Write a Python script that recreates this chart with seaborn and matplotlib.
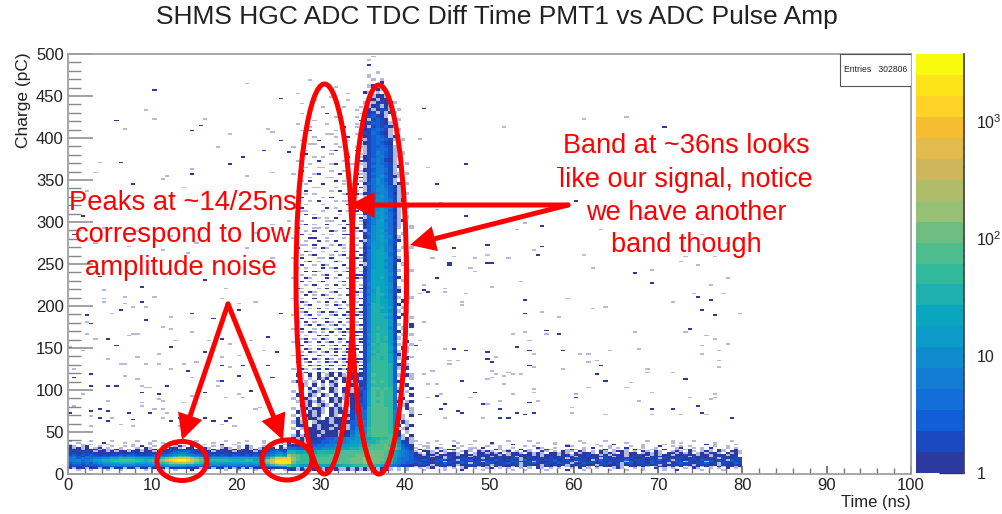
import numpy as np
import matplotlib
matplotlib.use("Agg")
import matplotlib.pyplot as plt
import seaborn as sns
from matplotlib.colors import BoundaryNorm, ListedColormap
from matplotlib.patches import Ellipse, FancyArrowPatch, Rectangle
from matplotlib.ticker import FixedLocator, NullFormatter

# Colour level per cell: 0-9 then a-j (20 levels), "-" is a faint single count, "." empty
level_chars = "0123456789abcdefghij"

# Low charge band, 0-26 ns in 0.5 ns columns, rows from 38 pC down to 4 pC (2 pC each)
left_band_rows = [
    "-....-....-.....-...-.....-...-......-....-...-.....",
    "..-.....0....-.....-..-.....0.....-.....-.....-...-.",
    "-..-.-...-.....-...-...-.0...-..-...0..-..-.....-..-",
    "0-.-0..-..-..-.-.0..-.-..-0-.0.-..-.-...-.0-..-.-.0.",
    "0-0-0.-0.-..-...-.0-..0-00-.00.-0-..-0-.-.0-.-0-0.0-",
    "010-000-0--0-.-.0-0-0-0010110100" "0-0-00-0-00-0-" "001010",
    "101010-00-0-00-00-00-01012223110" "00-0100-0100-0" "012321",
    "110111000000000100010011234432110" "1010100101010" "123453",
    "121212101111212211112123456654321" "1212112112121" "234664",
    "232132222233434433333445" "78aa9754" "32333323333232" "357998",
    "34233344557788887766789bdfggfdb9" "66777767777765" "68bfgg",
    "4453446788" "99aaaa99" "89ab" "cfhijjigdb" "88999988889978" "9cfhij",
    "3443446788" "9aaaaaa9" "89ab" "bdfhiihfca" "88899998899988" "adgjjj",
    "2332324566" "77888877" "6789" "9acdeedca9" "66777767777676" "8bfhii",
    "1221222344" "55555544" "4556" "6788887765" "44554455445454" "579bcc",
    "0101011122" "22232222" "2223" "3344443322" "12121212212121" "234455",
    "0-00-00-00" "-00-00-0" "0-0-" "0-0011000-" "-0-00-0-0-0-00" "-00010",
    "..-..-...-..-.....-...-..-...0..-....-..-...-...-..-",
]

# Low charge band, 41-80 ns in 0.5 ns columns, rows from 38 pC down to 4 pC (2 pC each)
right_band_rows = [
    "-....-...-....-.......-....-...........-.....-.........-.....-....-........-..",
    "...-......-.......0..........-...-......-.........-..........-.-.......-......",
    ".-....-......-....-....0.........-..-......-...0......-....-.........0.-....-.",
    "..--.....0.-.....-..-.....-.-.......0-......-.-....-..-...0..-.-.-.....-..-..",
    "-..-.0-...-..--.0...-..-.....0-..-......-.0...-.-.0...-..-....-0..-.-.0...-.-",
    ".0-..-.-00...-.-...0-.-..0.-.-.0-...-0-.-...-0.-..-.0-..--.0..-.-0..-.-.0-..0",
    "-.00-.0-.-.-0-.0-0-..-0.-.0-..0-.-.0--.0-.-.0-.-00-.-.0-.0-..-0-.0-.-0-.0-.00-",
    "0-.0-0.-00-.0.-00-0-0.-00-.0-0-.00-0-.0-00-.0-0-.0-00.-0-0-.00-0-0.-0-00-.0-0-",
    "00-00-0000-000-00100-0-00100-0-000-00-000100-0-000-00100-0-00-00100-00-000-00",
    "0101-00-10100-0100-01001-00100-0100101-00100010-10-0100-010010010-1000-101001",
    "1001010-10011010-01010011-0100101010-0110010-1010011001010-1001100101010-10011",
    "1121012101-11201110210111-2011011201101110-121101120111011201-110110211011-211",
    "2101120-11021011-12011021102-110121011-20111201101-2011021101121-1011-20110211",
    "1211011210121-11021011201-11210110211-10211011201-1201102111-01211011201-11021",
    "0110-01101-0011001-101001-1100-10101-001100-11001-01001101-0010110-01100-10010",
    "-00-0-00-0.-000-0-.0-00-0-0-.0-00-0.-0-00-.0-00-0-.00-0-.-00-0-0.-00-0-.0-00-0",
    ".-.-0..-.-.-0.-..-0.-.-..-.-.0-.-.-..-.0.-.-...-0-..-.-..0.-.-..-.0-..-.-.0.-",
    "..-....-...0....-......-..-....-....0...-.....-...-...-....-..0.....-....-....",
]

# Foot of both bands, 26-41 ns in 0.5 ns columns, rows from 40 pC down to 4 pC (4 pC each)
foot_rows = [
    "-0-0-0011223345566778899a95-0-",
    "0-00-01122334456677889aaa9610-",
    "10011223344556677899aaab9a7210",
    "3322334455566778899aaaabba8320",
    "8877777888899aaaaabbbbba975432",
    "dba9999999aaaaaabbbbbbba975432",
    "hca9999aaaaaaaabbbcbbbba964332",
    "ib99999aaaaaaaabbbcbbba9854322",
    "a87666677777788899a99875432110",
    "10-0--0--0-0--0-0-0-0-00-.-.-.",
]

# Second band, 26-35 ns in 0.5 ns columns, one row every 4 pC from 472 pC down to 120 pC
second_band_rows = [
    "..................", ".....-............", "..................", "...........-......", ".......-..........",
    "..-...........-...", "..........-.......", "......-.......-...", "...-.......-......",
    "........-....-...-", ".....-..........-.", "...-.....0.......-", "...........-....-.", "......-.....-....0",
    "..-......-......-.", ".....-.......0..-.", "...-.0.....-.....-", ".........--.....-.", "......-....-..0..-",
    "...-...0.....--..0", ".....--....-.....-", ".-......0...-...--", "....-.....-0....0.", "...00.....-...-..-",
    "......-.-.....0.--", "..-....0.....-...0", ".....-....-0...-.-", "....-..--.....0.-.", "...0......-..-...-",
    ".-....-0....0...0-", ".....-...--.....-0", "...-.0.....0.-...-", "....-...0....-.-0.", "......--...-.....0",
    "..-.0.....-.0...-.", "....-.-......-0.0-", "...0....-.0.....-.", ".....-.0...-.--..-", "....-...-.....0-.0",
    ".-.0.....0.-.....-", "...--...-...0.-.0.", "....0.-.....-...--", "......0-.-.0.....0", "...-.....--..0.-.-",
    "...-0.-..0..-.0..-", "..0...--.-...0.-0.", "....-.0...0-.-..-0", "...0.-..-.-..00...", ".-...00..-...-.0-.",
    "....-..0.-.0...-.0", "...--.0...-.0-..-.", "..0...-.0-...-.0.-", "....0-..-..0.-.-0.", "...-.-0...-.-0...0",
    ".-.0...--.0...-.0-", "....-0.-...0-..0.-", "...0..-.0-...0.-.0", "..-.-...0.-0..-.-.", "....0.0-...-.-0..-",
    "...-..-.-0..0...00", ".-..0-...0.-..-.0-", "...0.-.-0...-0..-.", "....-.0..-.0.-.0.-", "..0-...-.0..-.0-.0",
    "...-.0-...-0...-0-", "....0.-.0-..-.0.-.", ".-.-..0..-0.-..0-0", "...0-..-.0.-.0..-.", "....-0...-.0-.-0.0",
    "..-0.-.0.-..0-.-0-", "...-0..-0.0-..0.-0", ".-..-0.-..-0.0-.0-", "...0.-0.-0..-.0-.0", "..-.0.-..0-.0.-0-.",
    "....-0.0-.-0.-.0-0", ".-.0..-.0-.-0.0-.-", "...-.0-.-.0.-0-.00", "..0.-..0-0.-.0.-0-", "...-0.-.0-..0-.0-0",
    ".-..0-.0.-0.-.0-.0", "...0.-.-0.-0.0-.0-", "..-.0-.0..-0-.0-0.", "...-.0-.-0.0.-0-.0", ".-.0-..0-.-0.0-0-.",
    "...-0.0-.0-.-0-.00", "..0.-0.-.0-0.-0-0-", "...-.0-0.-0.-0.0-0", ".-.0-.-0.0-.0-0-.0", "...-0-.0-.0-0.-0-0",
]

# Lower part of the second band, 26-35 ns in 0.5 ns columns, rows from 116 pC down to 44 pC (4 pC each)
second_band_foot_rows = [
    "..0-.0.0.-0.0-.010", "...-.-.0-0.0.0-01-", ".-0.-.-.0.0-.0.-01", "...0-.0.-.-0..-0.0", "...0.0.-0.0-.0.-02",
    ".-.-.-0-..0-.0.-01", "..0-.0-.0-.0.-0020", ".-.-0-.0..0-0-.011", "..-.-0-0-.0-0.-021", "...0-0.-0-.0-.-022",
    ".-.-0-00-.0-0-.023", "..0-.0-0-.0-00-123", ".-.-00-0..0-.00133", "..0.-00-.0-000-134", ".-0-0.-000-00-0234",
    "..00-.0-000-00-235", ".-.-000-00-000-246", "..0.-000-000-00356", ".-0-000-0000-01467",
]

# Signal band, 35-41 ns in 0.5 ns columns, rows from 476 pC down to 44 pC (4 pC each)
signal_rows = [
    "...-........", ".-..........", "..-.-.......", "....0.......", ".-0.........", "...0-.......", "0-.-.-......",
    "..-00-......", ".-0-00......", "-.-0100-....", ".-01-0-.....", ".0-011-.-...", "-01-1-0-....", "01210-......",
    "0-1210..-...", "012210-.....", "0-12120-....", "012321-.-...", "113210-.....", "012321-0....",
    "-123321-.-..", "0123210.....", "-122321-0...", "-123331-....", "-124321-.-..", "0123421--...", "0134310-....",
    "-124321-..-.", "-134421-0...", "0124431-....", "-134421--.-.", "-1245310-...", "-135421-....", "0235431-0.-.",
    "-1345320-...", "-1355421-...", "01345420-.-.", "-2356421-...", "-2355431-0..", "12456420-...", "-2456431-.-.",
    "02456520-...", "12466431-...", "-2456530-.-.", "12467431-0..",
    "02466530-...", "12566531-..-", "-2567430....", "13566531.-..", "02567540-...", "-35676310...", "13666531....",
    "02667540.-.-", "13677541-...", "03677631..-.", "13677640-.-.", "036775410...", "-3677641.-..", "13677540....",
    "03777641-..-", "13777651..-.", "037786410...", "13777641.-..", "14777650..-.", "03787751-...", "146876410.-.",
    "13788751..-.", "14787650-..-", "14787751.0..", "138877510...",
    "14888761.-..", "14887751-.-.", "14888860.0..", "148887510..-", "14888861..-.", "14888861-..0", "14898851.-..",
    "148888610...", "15898861.-.-", "14898961-...", "15898862..0.", "14989961-..-", "15899972.0-.", "15989961-.-.",
    "158999720...", "15998972-.0.", "15999972.-..", "169999820.-.", "16999982-.0.", "16999982.0..",
    "16a99982-.0-", "16999982.0.-", "16a9a9820-..", "16999983.-0.", "16aa9a93-..0", "27a9a9930.-.", "27a9a993.-.0",
    "27aaa993-0..", "27a9a9930.-0", "27aaa993.-0.", "28aaaa93-.0-", "38aaaa940..-", "38aaaa94.-.0", "38aaaa940-..",
    "48aaaa94.0-.", "48aaaa940.-0", "59aaaa94.-0.", "59aaaa950.-.", "69aaaaa50-.0",
]

# Single counts scattered over the plot (ns, pC)
dark_t = [45.3, 45.3, 43.7, 49.8, 50.3, 69.2, 67.2, 74.8, 76.2, 54.3, 54.3, 75.3, 76.7, 40.8, 56.8, 58.3, 73.8, 41.3,
          53.3, 54.8, 58.8, 45.8, 47.3, 49.8, 49.8, 50.3, 54.8, 63.3, 62.8, 73.2, 63.7, 46.8, 48.3, 43.8, 60.3, 44.8,
          49.3, 54.8, 44.3, 46.3, 46.8, 51.3, 53.3, 54.3, 55.3, 69.2, 71.7, 74.8, 75.3, 41.9, 78.7, 51.3, 52.3, 42.3,
          42.8, 55.8, 10.2, 5.7, 14.7, 15.7, 6.2, 7.7, 14.7, 25.3, 25.3, 23.3, 20.9, 19.3, 26.2, 1.8, 0.8, 2.2, 2.7,
          4.7, 5.7, 6.2, 8.7, 9.2, 12.2, 14.7, 18.3, 16.2, 14.1, 18.3, 20.8, 2.7, 0.6, 2.7, 4.7, 5.7, 8.7, 10.7, 11.7,
          16.2, 20.3, 18.3, 21.6, 24.3, 3.7, 2.7, 4.7, 7.2, 9.7, 3.7, 4.7, 7.7, 12.2, 13.2, 16.2, 17.2, 18.8, 19.3,
          0.2, 23.8, 24.7, 23.8, 25.1, 16.3, 8.7, 3.7, 17.2, 20.3, 42.3, 47.3, 43.8, 70.7, 58.3, 60.3, 47.3, 56.3,
          45.8, 56.3, 49.8, 35.7]
dark_q = [251, 248, 232, 251, 250, 227, 238, 210, 207, 207, 191, 195, 188, 175, 171, 167, 172, 152,
          151, 147, 147, 148, 147, 144, 137, 132, 129, 128, 119, 113, 110, 110, 97, 93, 91, 82,
          83, 85, 77, 75, 73, 76, 72, 70, 72, 76, 76, 81, 72, 70, 66, 66, 66, 219,
          216, 260, 456, 421, 408, 415, 371, 344, 357, 447, 396, 385, 376, 369, 382, 306, 285, 188, 179,
          160, 152, 194, 204, 182, 150, 191, 161, 144, 123, 128, 129, 119, 114, 104, 104, 104, 97, 94, 104,
          97, 116, 110, 99, 114, 77, 75, 75, 72, 72, 66, 63, 64, 63, 66, 67, 62, 63, 66,
          72, 163, 144, 128, 191, 231, 223, 235, 185, 195, 435, 369, 344, 413, 364, 325, 306, 294,
          269, 270, 272, 486]

pale_t = [9.2, 10.2, 6.7, 16.1, 17.7, 19.3, 23.7, 24.3, 21.3, 3.7, 3.2, 11.2, 11.7, 13.7, 14.7, 21.3, 24.3, 2.2, 5.7,
          43.3, 45.8, 48.3, 49.8, 52.3, 61.0, 47.8, 48.3, 62.3, 69.2, 53.8, 50.3, 44.5, 44.8, 41.9, 47.3, 42.3, 46.8,
          46.8, 59.2, 62.3, 63.7, 56.3, 58.3, 42.3, 71.8, 74.3, 77.7, 76.3, 78.3, 79.7, 54.3, 52.8, 56.8, 67.2, 73.2,
          75.8, 76.7, 41.9, 54.6, 78.3, 75.3, 44.8, 67.8, 64.3, 55.3, 60.8, 61.8, 75.3, 77.3, 40.8, 50.8, 45.3, 46.3,
          62.8, 61.5, 77.3, 45.3, 55.3, 58.8, 68.8, 77.3, 43.3, 50.3, 68.8, 71.8, 52.3, 50.8, 52.8, 53.8, 42.3, 51.8,
          50.3, 49.8, 42.8, 43.8, 51.8, 66.8, 61.8, 66.3, 40.8, 55.3, 55.3, 69.2, 44.3, 60.3, 52.8, 42.8, 47.8, 73.8,
          76.7, 76.7, 76.2, 51.3, 55.8, 67.8, 49.8, 59.7, 44.8, 49.3, 59.7, 63.7, 69.2, 72.8, 75.8, 72.8, 74.8, 73.3,
          76.7, 4.2, 4.2, 4.2, 6.7, 6.7, 5.2, 7.7, 9.2, 10.2, 2.2, 2.2, 3.2, 7.2, 7.7, 8.2, 11.2, 12.2, 12.2, 12.7,
          14.7, 10.7, 8.2, 4.7, 6.2, 6.7, 9.2, 10.7, 13.7, 12.2, 8.2, 6.7, 0.7, 1.7, 0.2, 15.2, 14.9, 17.8, 18.3,
          19.3, 19.3, 16.8, 18.3, 18.8, 20.4, 22.4, 21.8, 23.2, 20.3, 9.2, 9.7, 11.6, 8.7, 1.7, 4.7, 8.7, 8.7, 10.7,
          11.2, 13.7, 14.7, 18.8, 20.3, 20.8, 22.8, 22.4, 17.8, 0.7, 2.7, 5.2, 11.2, 10.2, 11.2, 11.6, 6.2, 2.7, 7.7,
          13.2, 19.8, 18.3, 51.8, 42.8, 44.3, 43.8, 54.3, 53.3, 49.8, 61.0, 71.8, 55.3, 41.8, 61.3, 66.0, 72.0, 68.0,
          75.0, 78.0, 63.0, 4.0, 8.0, 12.0, 15.0, 19.0, 22.0, 24.0, 26.0, 3.0, 7.0, 11.0, 14.0, 21.0, 24.0, 36.2, 35.7]
pale_q = [433, 423, 411, 422, 389, 405, 410, 407, 464, 370, 358, 351, 354, 340, 362, 354, 358, 336, 314,
          256, 258, 256, 261, 257, 261, 244, 240, 244, 243, 229, 222, 221, 217, 214, 214, 225, 205,
          200, 209, 197, 198, 193, 186, 180, 205, 214, 214, 225, 233, 190, 169, 166, 166, 169, 169,
          165, 161, 159, 159, 154, 153, 149, 149, 146, 143, 143, 143, 143, 146, 139, 139, 135, 134,
          135, 133, 135, 131, 127, 125, 125, 127, 123, 123, 121, 121, 121, 118, 118, 118, 118, 116,
          114, 112, 107, 107, 107, 108, 102, 102, 100, 100, 96, 96, 95, 95, 94, 90, 91, 90,
          95, 90, 88, 87, 86, 87, 83, 78, 67, 67, 72, 71, 71, 71, 71, 252, 248, 258,
          259, 218, 209, 204, 211, 202, 191, 198, 198, 211, 181, 166, 161, 165, 167, 167, 174, 173, 186, 159,
          169, 143, 139, 136, 131, 131, 131, 131, 131, 124, 112, 117, 125, 146, 150, 132, 114, 111, 139,
          126, 154, 158, 208, 220, 202, 205, 158, 147, 141, 103, 103, 104, 104, 94, 87, 84, 80, 88,
          87, 84, 92, 91, 94, 90, 79, 77, 104, 80, 68, 66, 66, 76, 76, 72, 59, 56, 56,
          56, 56, 59, 413, 365, 323, 314, 299, 291, 261, 261, 393, 267, 398, 422, 425, 350, 305,
          285, 275, 290, 292, 288, 282, 275, 279, 286, 296, 300, 275, 270, 266, 262, 268, 256, 497, 492]

time_ticks = [0, 10, 20, 30, 40, 50, 60, 70, 80, 90, 100]
charge_ticks = [0, 50, 100, 150, 200, 250, 300, 350, 400, 450, 500]

bird_colors = ["#2a3a9f", "#1a48be", "#105fd7", "#146ed7", "#127dd2", "#0e8ccd", "#0c9bc8", "#0aa5be",
               "#1eafaf", "#32b99b", "#4ebe91", "#6ebe82", "#96c073", "#afbc69", "#cdb75a", "#e1bb4b",
               "#f5be32", "#ffd228", "#fce419", "#fafa0f"]

sns.set_theme(style="white")
plt.rcParams["font.family"] = ["Liberation Sans", "DejaVu Sans"]
plt.rcParams["mathtext.fontset"] = "custom"
plt.rcParams["mathtext.rm"] = "Liberation Sans"
plt.rcParams["mathtext.default"] = "regular"

bird = ListedColormap(bird_colors)
level_edges = np.geomspace(1, 3700, 21)
norm = BoundaryNorm(level_edges, 20)
level_counts = np.sqrt(level_edges[:-1] * level_edges[1:])

fig = plt.figure(figsize=(10.02, 5.14), dpi=100)
ax = fig.add_axes([68 / 1002, 40 / 514, 843 / 1002, 420 / 514])


def draw_cells(t, q, counts, t_edges, q_edges, alpha=1.0):
    sns.histplot(x=t, y=q, weights=counts, bins=[t_edges, q_edges], cmap=bird, norm=norm,
                 vmin=None, vmax=None, alpha=alpha, ax=ax)


def draw_block(rows, t0, dt, q_top, pitch, cell_h=None):
    # rows run top to bottom, q_top is the lower edge of the first row
    cell_h = cell_h or pitch
    n_cols = max(len(r) for r in rows)
    t_edges = t0 + dt * np.arange(n_cols + 1)
    q_edges = np.arange(q_top - pitch * (len(rows) - 1), q_top + pitch + cell_h / 2, cell_h)
    solid = ([], [], [])
    faint = ([], [], [])
    for r, row in enumerate(rows):
        q = q_top - pitch * r + cell_h / 2
        for c, ch in enumerate(row):
            t = t0 + dt * c + dt / 2
            if ch == "-":
                faint[0].append(t)
                faint[1].append(q)
                faint[2].append(1.2)
            elif ch != ".":
                solid[0].append(t)
                solid[1].append(q)
                solid[2].append(level_counts[level_chars.index(ch)])
    draw_cells(*faint, t_edges, q_edges, alpha=0.35)
    draw_cells(*solid, t_edges, q_edges)


draw_block(left_band_rows, 0, 0.5, 38, 2)
draw_block(right_band_rows, 41, 0.5, 38, 2)
draw_block(foot_rows, 26, 0.5, 40, 4)
draw_block(second_band_rows, 26, 0.5, 472 - 0, 4, cell_h=2)
draw_block(second_band_foot_rows, 26, 0.5, 116, 4)
draw_block(signal_rows, 35, 0.5, 476, 4)

speck_t_edges = 0.5 * np.arange(201)
speck_q_edges = 2.0 * np.arange(251)
draw_cells(pale_t, pale_q, [1.2] * len(pale_t), speck_t_edges, speck_q_edges, alpha=0.35)
draw_cells(dark_t, dark_q, [1.2] * len(dark_t), speck_t_edges, speck_q_edges)

ax.set_xlim(0, 100)
ax.set_ylim(0, 500)
ax.set_xlabel("")
ax.set_ylabel("")
ax.set_xticks(time_ticks)
ax.set_yticks(charge_ticks)
ax.xaxis.set_minor_locator(FixedLocator(np.arange(0, 101, 2)))
ax.yaxis.set_minor_locator(FixedLocator(np.arange(0, 501, 10)))
ax.tick_params(axis="x", which="major", direction="in", length=6, width=1.1, color="#555555",
               labelsize=12, labelcolor="#222222", pad=3)
ax.tick_params(axis="x", which="minor", direction="in", length=4, width=1.0, color="#777777")
ax.tick_params(axis="y", which="major", direction="in", length=18, width=1.1, color="#888888",
               labelsize=12, labelcolor="#222222", pad=3)
ax.tick_params(axis="y", which="minor", direction="in", length=9, width=1.0, color="#888888")
ax.xaxis.set_ticks_position("bottom")
ax.yaxis.set_ticks_position("left")
for spine in ax.spines.values():
    spine.set_color("#a0a0a0")
    spine.set_linewidth(1.3)
ax.patch.set_alpha(0)
fig.text(911 / 1002, 1 - 502 / 514, "Time (ns)", ha="right", va="center", fontsize=12, color="#222222")
fig.text(24 / 1002, 1 - 52 / 514, "Charge (pC)", rotation=90, ha="center", va="top", fontsize=12.5, color="#222222")
fig.text(497 / 1002, 1 - 17 / 514, "SHMS HGC ADC TDC Diff Time PMT1 vs ADC Pulse Amp",
         ha="center", va="center", fontsize=19, color="#222222")

# stats box
ax.add_patch(Rectangle((91.6, 462), 8.4, 38, facecolor="white", edgecolor="#555555", linewidth=0.8, zorder=5))
ax.text(92.0, 481, "Entries   302806", fontsize=6.2, va="center", ha="left", color="#222222", zorder=6)

# colour bar
cax = fig.add_axes([916 / 1002, 41 / 514, 48 / 1002, 419 / 514])
cax.pcolormesh([0, 1], level_edges, level_counts[:, None], cmap=bird, norm=norm)
cax.set_yscale("log")
cax.set_ylim(1, 3700)
cax.set_xticks([])
cax.set_yticks([1, 10, 100, 1000])
cax.set_yticklabels(["1", "10", "$10^{2}$", "$10^{3}$"])
cax.yaxis.set_minor_locator(FixedLocator([m * d for d in (1, 10, 100, 1000) for m in range(2, 10)]))
cax.yaxis.set_minor_formatter(NullFormatter())
cax.yaxis.tick_right()
cax.tick_params(axis="y", which="major", direction="in", length=18, width=1.0, color="#333333",
                labelsize=11.5, labelcolor="#222222", pad=9, right=True, left=False)
cax.tick_params(axis="y", which="minor", direction="in", length=9, width=1.0, color="#444444", right=True, left=False)
for name, spine in cax.spines.items():
    spine.set_visible(name == "right")
    spine.set_color("#444444")

# red notes drawn on top, in pixel coordinates of the picture
over = fig.add_axes([0, 0, 1, 1])
over.set_xlim(0, 1002)
over.set_ylim(514, 0)
over.axis("off")
red = "#ff0000"
for cx, cy, w, h in [(324.5, 279, 57, 390), (379, 279.5, 55, 389), (182, 461, 50, 39), (287, 460, 50, 40)]:
    over.add_patch(Ellipse((cx, cy), w, h, fill=False, edgecolor=red, linewidth=3.6))
for start, end in [((568, 205), (349, 205)), ((568, 205), (410, 245)), ((228, 304), (182, 440)), ((228, 304), (283, 440))]:
    over.add_patch(FancyArrowPatch(start, end, arrowstyle="-|>,head_length=0.7,head_width=0.35", mutation_scale=18,
                                   color=red, linewidth=3.6, shrinkA=0, shrinkB=0, joinstyle="miter"))
for x, y, s, size in [(183, 203, "Peaks at ~14/25ns", 19.7), (183, 235, "correspond to low", 19.7), (181, 268, "amplitude noise", 19.7),
                      (686, 146, "Band at ~36ns looks", 19.5), (686, 180, "like our signal, notice", 19.5),
                      (686, 213, "we have another", 19.5), (686, 245, "band though", 19.5)]:
    over.text(x, y, s, color=red, fontsize=size, ha="center", va="center")

fig.savefig("out.png", dpi=100)
